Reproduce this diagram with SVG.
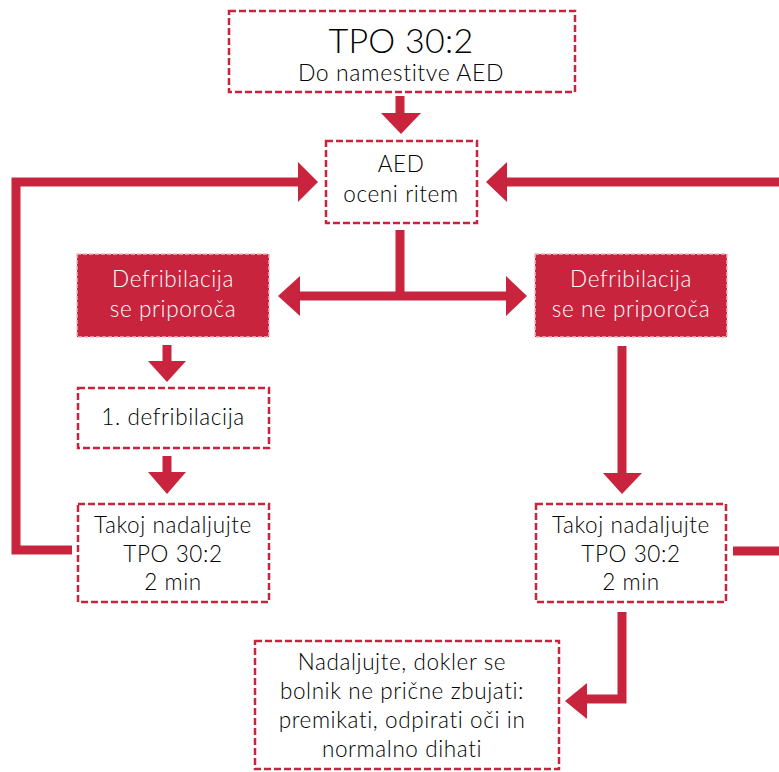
<svg xmlns="http://www.w3.org/2000/svg" width="779" height="772" viewBox="0 0 779 772">
<defs>
<style>
.box{fill:#fff;stroke:#c8243e;stroke-width:2.5;stroke-dasharray:7 3}
.fbox{fill:#c8243e;stroke:#f0b8c2;stroke-width:1.5;stroke-dasharray:4 2}
.t{font-family:Lato,"Open Sans","Liberation Sans",sans-serif;font-size:22.5px;font-weight:300;letter-spacing:0.6px;fill:#000;text-anchor:middle}
.w{fill:#fff}
.big{font-size:34px;letter-spacing:0.3px}
.mid{font-size:23px}
.ln{fill:none;stroke:#c8243e;stroke-width:9}
.ah{fill:#c8243e}
</style>
</defs>
<g id="connectors">
<path class="ln" d="M400,96 V115"/>
<polygon class="ah" points="381,113 421,113 401,134"/>
<path class="ln" d="M72,550 H16 V182 H300"/>
<polygon class="ah" points="298,162 318,182 298,202"/>
<path class="ln" d="M779,182 H505"/>
<polygon class="ah" points="507,162 486,182 507,202"/>
<path class="ln" d="M400,230 V296 M298,296 H508"/>
<polygon class="ah" points="300,276 278,296 300,316"/>
<polygon class="ah" points="506,276 527,296 506,316"/>
<path class="ln" d="M167,345 V363"/>
<polygon class="ah" points="148,361 186,361 167,382"/>
<path class="ln" d="M167,456 V474"/>
<polygon class="ah" points="148,472 186,472 167,494"/>
<path class="ln" d="M622,346 V475"/>
<polygon class="ah" points="603,473 642,473 622,494"/>
<path class="ln" d="M733,551 H779"/>
<path class="ln" d="M622,612 V699 H585"/>
<polygon class="ah" points="587,683 565,701 587,719"/>
</g>
<g id="n-tpo">
<rect class="box" x="229" y="11" width="346" height="81"/>
<text class="t big" x="401" y="53">TPO 30:2</text>
<text class="t mid" x="401" y="81">Do namestitve AED</text>
</g>
<g id="n-aed">
<rect class="box" x="326" y="141" width="151" height="82"/>
<text class="t" x="401" y="172">AED</text>
<text class="t" x="401" y="202">oceni ritem</text>
</g>
<g id="n-defib-yes">
<rect class="fbox" x="77" y="254" width="192" height="83"/>
<text class="t w" x="173" y="287">Defribilacija</text>
<text class="t w" x="173" y="317">se priporoča</text>
</g>
<g id="n-defib-no">
<rect class="fbox" x="535" y="254" width="192" height="83"/>
<text class="t w" x="631" y="287">Defribilacija</text>
<text class="t w" x="631" y="317">se ne priporoča</text>
</g>
<g id="n-first">
<rect class="box" x="78" y="388" width="191" height="60"/>
<text class="t" x="173" y="425">1. defribilacija</text>
</g>
<g id="n-cpr-left">
<rect class="box" x="78" y="504" width="191" height="98"/>
<text class="t" x="173" y="533">Takoj nadaljujte</text>
<text class="t" x="173" y="562">TPO 30:2</text>
<text class="t" x="173" y="590">2 min</text>
</g>
<g id="n-cpr-right">
<rect class="box" x="536" y="504" width="190" height="98"/>
<text class="t" x="631" y="533">Takoj nadaljujte</text>
<text class="t" x="631" y="562">TPO 30:2</text>
<text class="t" x="631" y="590">2 min</text>
</g>
<g id="n-continue">
<rect class="box" x="255" y="641" width="304" height="128"/>
<text class="t" x="402" y="670">Nadaljujte, dokler se</text>
<text class="t" x="402" y="699">bolnik ne prične zbujati:</text>
<text class="t" x="402" y="728">premikati, odpirati oči in</text>
<text class="t" x="402" y="757">normalno dihati</text>
</g>
</svg>
